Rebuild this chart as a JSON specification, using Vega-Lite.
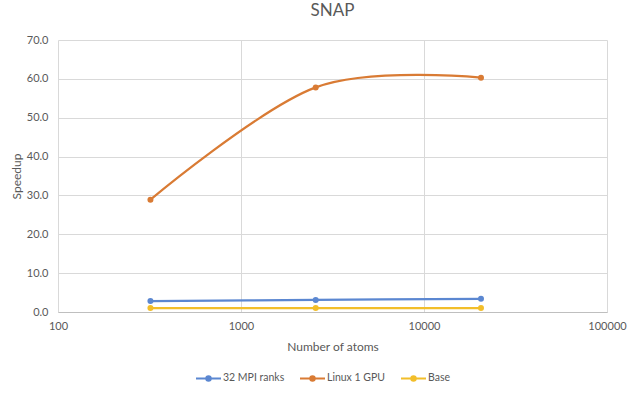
{
  "$schema": "https://vega.github.io/schema/vega-lite/v6.json",
  "autosize": "none",
  "width": 549,
  "height": 272,
  "padding": {"left": 58, "top": 40, "right": 30, "bottom": 82},
  "background": "white",
  "config": {
    "font": "Lato",
    "view": {"stroke": null},
    "axis": {"labelColor": "#595959", "titleColor": "#595959", "labelFont": "Lato", "titleFont": "Lato", "titleFontWeight": "normal", "gridColor": "#d9d9d9", "gridWidth": 1, "ticks": false}
  },
  "title": {"text": "SNAP", "fontSize": 17, "fontWeight": "normal", "color": "#595959", "font": "Lato", "offset": 14, "anchor": "middle"},
  "data": {
    "values": [
      {"atoms": 320, "series": "32 MPI ranks", "speedup": 2.8},
      {"atoms": 2560, "series": "32 MPI ranks", "speedup": 3.1},
      {"atoms": 20480, "series": "32 MPI ranks", "speedup": 3.4},
      {"atoms": 320, "series": "Linux 1 GPU", "speedup": 28.9},
      {"atoms": 2560, "series": "Linux 1 GPU", "speedup": 57.8},
      {"atoms": 20480, "series": "Linux 1 GPU", "speedup": 60.3},
      {"atoms": 320, "series": "Base", "speedup": 1.0},
      {"atoms": 2560, "series": "Base", "speedup": 1.0},
      {"atoms": 20480, "series": "Base", "speedup": 1.0}
    ]
  },
  "encoding": {
    "x": {"field": "atoms", "type": "quantitative", "scale": {"type": "log", "domain": [100, 100000]},
      "axis": {"title": "Number of atoms", "values": [100, 1000, 10000, 100000], "format": "d", "labelFontSize": 11, "titleFontSize": 12, "labelPadding": 8, "titlePadding": 10, "domainColor": "#bfbfbf", "labelFlush": false}},
    "y": {"field": "speedup", "type": "quantitative", "scale": {"domain": [0, 70], "nice": false},
      "axis": {"title": "Speedup", "values": [0, 10, 20, 30, 40, 50, 60, 70], "format": ".1f", "domain": false, "labelFontSize": 11, "titleFontSize": 12, "labelPadding": 10, "titlePadding": 3}},
    "color": {"field": "series", "type": "nominal",
      "scale": {"domain": ["32 MPI ranks", "Linux 1 GPU", "Base"], "range": ["#5B87D1", "#D97B34", "#F2BE2A"]},
      "legend": {"title": null, "orient": "none", "legendX": 137, "legendY": 332, "direction": "horizontal", "labelFontSize": 10.5, "labelColor": "#595959", "labelFont": "Lato",
        "symbolType": "M-1,0L4,0M1.5,-0.45A0.45,0.45 0 1,1 1.5,0.45A0.45,0.45 0 1,1 1.5,-0.45Z",
        "symbolSize": 100, "symbolStrokeWidth": 2, "labelOffset": 16, "columnPadding": 11,
        "encode": {"symbols": {"update": {"fill": {"scale": "color", "field": "value"}, "stroke": {"scale": "color", "field": "value"}, "fillOpacity": {"value": 1}}}}}
    }
  },
  "layer": [
    {"mark": {"type": "line", "interpolate": "cardinal", "strokeWidth": 2.25}},
    {"mark": {"type": "point", "filled": true, "size": 36, "opacity": 1}}
  ]
}
